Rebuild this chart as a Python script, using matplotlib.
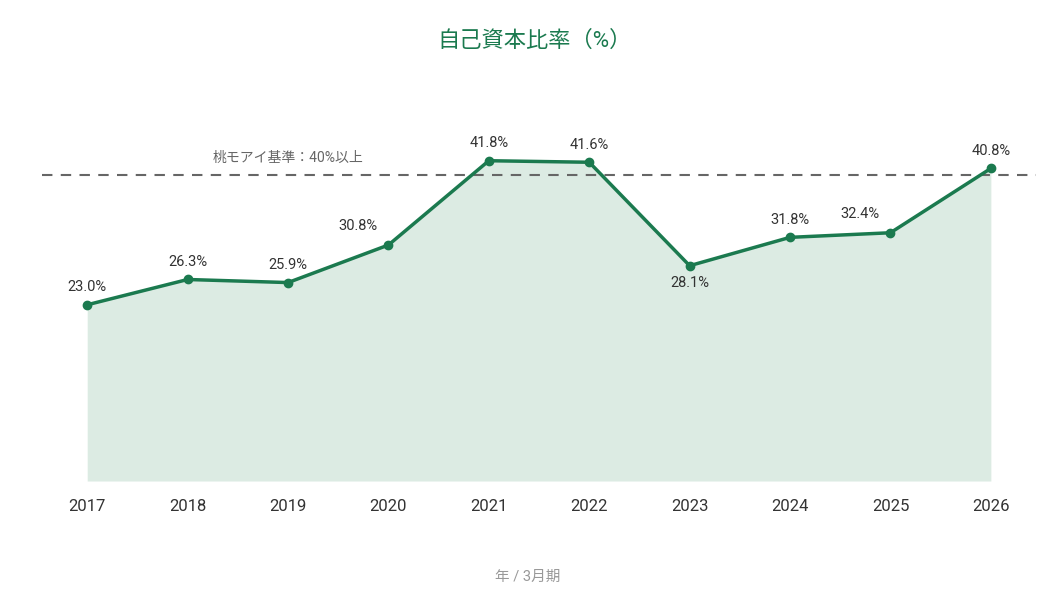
import matplotlib
matplotlib.use("Agg")
import matplotlib.pyplot as plt

plt.rcParams['font.family'] = ['Roboto', 'Noto Sans CJK JP', 'DejaVu Sans']

years = ["2017", "2018", "2019", "2020", "2021", "2022", "2023", "2024", "2025", "2026"]
ratio = [23.0, 26.3, 25.9, 30.8, 41.8, 41.6, 28.1, 31.8, 32.4, 40.8]
threshold = 40
threshold_label = "桃モアイ基準：40%以上"
title = "自己資本比率（%）"
xlabel = "年 / 3月期"

green = "#1b7a4f"
fill = "#dcebe3"

fig = plt.figure(figsize=(10.56, 5.94), dpi=100)
ax = fig.add_axes([0.0398, 0.1902, 0.9413, 0.645])
x = list(range(len(years)))
ax.fill_between(x, ratio, 0, color=fill, linewidth=0, zorder=1)
ax.plot(x, ratio, color=green, linewidth=2.5, marker='o', markersize=6, zorder=3)
ax.axhline(threshold, color="#666666", linewidth=1.5, linestyle=(0, (5, 4)), zorder=2)
ax.text(2.75, threshold + 2.2, threshold_label, ha='right', va='center', fontsize=10, color="#666666")

# label offsets (points): (dx, dy)
offsets = [(0, 12.5), (0, 12.5), (0, 12.5), (-22, 13.5), (0, 12.5), (0, 12.5), (0, -12.5), (0, 12.5), (-22, 13.5), (0, 12.5)]
for xi, v, (dx, dy) in zip(x, ratio, offsets):
    ax.annotate(f"{v:.1f}%", (xi, v), xytext=(dx, dy), textcoords='offset points',
                ha='center', va='center', fontsize=10.5, color="#333333")

ax.set_xlim(-0.45, 9.45)
ax.set_ylim(0, 50)
ax.set_xticks(x)
ax.set_xticklabels(years, fontsize=12, color="#333333")
ax.tick_params(axis='x', length=0, pad=13)
ax.set_yticks([])
for s in ax.spines.values():
    s.set_visible(False)

fig.text(0.506, 0.93, title, ha='center', va='center', fontsize=16, color=green)
fig.text(0.5, 1 - 577/594, xlabel, ha='center', va='center', fontsize=10.5, color="#999999")

fig.savefig("out.png", dpi=100)
